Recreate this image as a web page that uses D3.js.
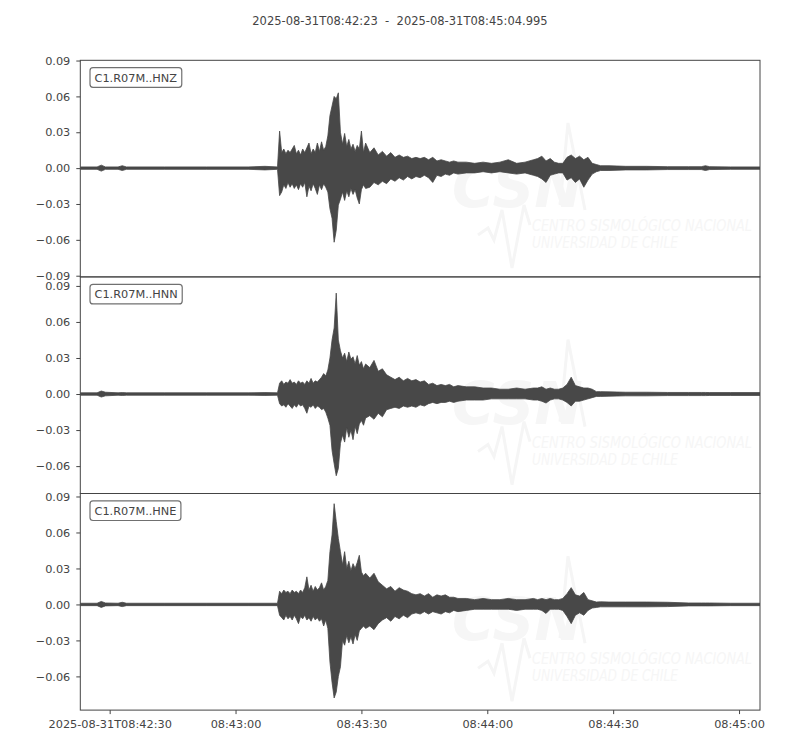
<!DOCTYPE html>
<html>
<head>
<meta charset="utf-8">
<script src="https://cdn.jsdelivr.net/npm/d3@7"></script>
<style>
  body { margin: 0; background: #fff; }
  text { font-family: "DejaVu Sans", sans-serif; }
</style>
</head>
<body>
<div id="chart"></div>
<script>

// Set dimensions and margins
const width = 800;
const height = 750;
const margin = {left: 80.3, right: 40, top: 60.3};
const panelH = 216.6;

// channel names, one panel each
const channels = ["C1.R07M..HNZ", "C1.R07M..HNN", "C1.R07M..HNE"];

// trace start / end (UTC)
const startTime = "2025-08-31T08:42:23Z";
const endTime = "2025-08-31T08:45:04.995Z";
const titleText = "2025-08-31T08:42:23  -  2025-08-31T08:45:04.995";

// envelope sample times, seconds after start
const seconds = [
  0, 4, 5, 6, 9, 10, 11, 20, 30, 40, 44, 47,
  47.5, 48, 48.5, 49, 49.5, 50, 50.5, 51, 51.5, 52, 52.5, 53, 53.5, 54, 54.5, 55, 55.5, 56, 56.5, 57,
  57.5, 58, 58.5, 59, 59.5, 60, 60.5, 61, 61.5, 62, 62.5, 63, 63.5, 64, 64.5, 65, 65.5, 66, 66.5, 67, 67.5, 68,
  69, 70, 71, 72, 73, 74, 75, 76, 77, 78, 79, 80, 81, 82, 83, 84, 85, 86, 87, 88, 89, 90,
  92, 94, 96, 98, 100, 102, 104, 106, 108,
  109, 110, 111, 112, 113, 114, 115, 116, 117, 118, 119, 120, 121, 122, 123, 124,
  126, 130, 135, 140, 145, 148, 149, 150, 155, 161.99
];

// HNZ envelope (max / min), m/s^2
const hnzUpper = [
  .001, .001, .0025, .001, .001, .002, .001, .001, .001, .001, .0015, .001,
  .031, .013, .016, .012, .015, .013, .016, .019, .012, .015, .011, .016, .013, .017, .021, .012, .016, .013, .021, .014,
  .022, .015, .018, .027, .044, .052, .060, .058, .063, .030, .020, .029, .018, .024, .016, .020, .014, .019, .016, .031, .013, .021,
  .013, .017, .011, .014, .010, .013, .009, .011, .009, .010, .008, .009, .008, .009, .007, .009, .006, .007, .006, .005, .006, .005,
  .005, .004, .005, .004, .005, .007, .004, .005, .007,
  .008, .010, .006, .008, .005, .004, .004, .009, .011, .008, .010, .007, .009, .004, .003, .002,
  .002, .0015, .0015, .0012, .0012, .0012, .002, .0012, .001, .001
];
const hnzLower = [
  -.001, -.001, -.0025, -.001, -.001, -.002, -.001, -.001, -.001, -.001, -.0015, -.001,
  -.023, -.020, -.014, -.017, -.012, -.016, -.013, -.017, -.014, -.018, -.013, -.016, -.012, -.024, -.015, -.019, -.013, -.017, -.022, -.014,
  -.018, -.013, -.016, -.020, -.034, -.042, -.062, -.052, -.031, -.026, -.020, -.027, -.019, -.024, -.017, -.022, -.018, -.025, -.030, -.018, -.014, -.017,
  -.016, -.012, -.014, -.011, -.013, -.009, -.011, -.008, -.010, -.007, -.009, -.007, -.008, -.006, -.008, -.012, -.006, -.007, -.005, -.006, -.004, -.005,
  -.004, -.004, -.003, -.004, -.003, -.004, -.005, -.004, -.006,
  -.007, -.009, -.012, -.006, -.005, -.004, -.004, -.010, -.008, -.012, -.009, -.016, -.010, -.005, -.003, -.002,
  -.002, -.0015, -.0015, -.0012, -.0012, -.0012, -.002, -.0012, -.001, -.001
];

// HNN envelope
const hnnUpper = [
  .001, .001, .0025, .0015, .001, .0012, .001, .001, .001, .001, .0012, .001,
  .009, .011, .008, .010, .009, .012, .009, .010, .008, .011, .009, .010, .008, .011, .009, .013, .009, .011, .010, .012,
  .014, .017, .015, .020, .030, .045, .055, .084, .045, .036, .030, .034, .027, .035, .029, .031, .025, .032, .024, .027, .021, .025,
  .022, .028, .019, .021, .016, .014, .012, .014, .011, .013, .011, .012, .010, .011, .008, .009, .007, .008, .007, .008, .006, .007,
  .006, .006, .005, .005, .004, .004, .005, .004, .005,
  .005, .006, .004, .005, .004, .004, .005, .008, .014, .007, .006, .005, .005, .004, .002, .002,
  .0018, .0015, .0015, .0013, .0013, .0013, .0013, .0012, .0012, .0012
];
const hnnLower = [
  -.001, -.001, -.0025, -.0015, -.001, -.0012, -.001, -.001, -.001, -.001, -.0012, -.001,
  -.008, -.010, -.009, -.011, -.008, -.010, -.012, -.009, -.011, -.008, -.010, -.009, -.012, -.016, -.010, -.011, -.009, -.012, -.010, -.011,
  -.013, -.012, -.015, -.020, -.026, -.047, -.058, -.068, -.062, -.041, -.034, -.040, -.028, -.036, -.030, -.038, -.027, -.033, -.025, -.022, -.026, -.020,
  -.018, -.021, -.016, -.019, -.013, -.012, -.011, -.012, -.010, -.011, -.010, -.011, -.009, -.010, -.008, -.007, -.008, -.007, -.007, -.006, -.007, -.006,
  -.005, -.005, -.005, -.004, -.004, -.004, -.004, -.004, -.005,
  -.005, -.006, -.0075, -.005, -.004, -.004, -.005, -.007, -.010, -.006, -.006, -.005, -.004, -.003, -.002, -.002,
  -.0018, -.0015, -.0015, -.0013, -.0013, -.0013, -.0013, -.0012, -.0012, -.0012
];

// HNE envelope
const hneUpper = [
  .001, .001, .0025, .0012, .001, .0018, .001, .001, .001, .001, .001, .001,
  .011, .009, .012, .010, .011, .009, .012, .010, .011, .009, .012, .010, .014, .023, .012, .016, .011, .015, .012, .014,
  .018, .012, .015, .020, .044, .058, .084, .069, .055, .044, .033, .044, .030, .036, .028, .034, .030, .035, .041, .027, .024, .026,
  .022, .026, .019, .016, .013, .015, .011, .014, .012, .011, .009, .008, .009, .007, .009, .006, .008, .007, .008, .006, .006, .005,
  .005, .004, .005, .004, .004, .005, .004, .004, .005,
  .004, .005, .004, .005, .004, .004, .005, .009, .014, .008, .007, .010, .004, .003, .002, .0022,
  .002, .002, .002, .0018, .0012, .0012, .0012, .0012, .001, .001
];
const hneLower = [
  -.001, -.001, -.0025, -.0012, -.001, -.0018, -.001, -.001, -.001, -.001, -.001, -.001,
  -.009, -.011, -.013, -.009, -.012, -.010, -.013, -.009, -.012, -.016, -.010, -.012, -.009, -.013, -.011, -.014, -.010, -.013, -.011, -.014,
  -.012, -.018, -.013, -.020, -.048, -.065, -.078, -.073, -.060, -.052, -.030, -.034, -.026, -.032, -.027, -.033, -.025, -.030, -.022, -.020, -.018, -.020,
  -.018, -.021, -.016, -.013, -.011, -.014, -.010, -.012, -.009, -.011, -.008, -.007, -.008, -.006, -.008, -.006, -.007, -.008, -.006, -.007, -.005, -.006,
  -.005, -.004, -.004, -.004, -.004, -.004, -.005, -.004, -.004,
  -.004, -.005, -.0075, -.004, -.004, -.004, -.005, -.010, -.016, -.009, -.007, -.009, -.005, -.003, -.0025, -.002,
  -.002, -.002, -.002, -.0018, -.0012, -.0012, -.0012, -.0012, -.001, -.001
];

const uppers = [hnzUpper, hnnUpper, hneUpper];
const lowers = [hnzLower, hnnLower, hneLower];

// y limits of each panel (min, max)
const yLimits = [[-0.0910, 0.0902], [-0.0828, 0.0975], [-0.0881, 0.0925]];
const yTicks = [0.09, 0.06, 0.03, 0, -0.03, -0.06, -0.09];

// x ticks
const xTickTimes = ["08:42:30", "08:43:00", "08:43:30", "08:44:00", "08:44:30", "08:45:00"];
const xTickLabels = ["2025-08-31T08:42:30", "08:43:00", "08:43:30", "08:44:00", "08:44:30", "08:45:00"];

const ink = "#444444";
const traceColor = "#484848";

const t0 = new Date(startTime);
const xScale = d3.scaleUtc()
  .domain([t0, new Date(endTime)])
  .range([margin.left, width - margin.right]);

const svg = d3.select("#chart")
  .append("svg")
  .attr("width", width)
  .attr("height", height);

// title
svg.append("text")
  .attr("x", 400)
  .attr("y", 25)
  .attr("text-anchor", "middle")
  .style("white-space", "pre")
  .attr("font-size", "11.5px")
  .attr("fill", ink)
  .text(titleText);

channels.forEach((name, i) => {
  const top = margin.top + panelH * i;
  const bottom = top + panelH;

  const yScale = d3.scaleLinear()
    .domain(yLimits[i])
    .range([bottom, top]);

  const g = svg.append("g");

  // clip for the trace
  g.append("clipPath")
    .attr("id", "clip" + i)
    .append("rect")
    .attr("x", margin.left)
    .attr("y", top)
    .attr("width", width - margin.right - margin.left)
    .attr("height", panelH);

  // faint CSN watermark (clip on outer group, shift on inner)
  const wm = g.append("g")
    .attr("clip-path", `url(#clip${i})`)
    .append("g")
    .attr("transform", `translate(0,${top - margin.top})`)
    .attr("fill", "#f6f6f6");
  wm.append("path")
    .attr("d", "M478,235 L488,228 L494,240 L502,210 L512,268 L524,205 L530,225 M560,205 L568,123 L585,210")
    .attr("fill", "none")
    .attr("stroke", "#f5f5f5")
    .attr("stroke-width", 3);
  wm.append("text")
    .attr("x", 452).attr("y", 207)
    .attr("font-size", "58px")
    .attr("font-weight", "bold")
    .attr("font-style", "italic")
    .text("CSN");
  wm.append("text")
    .attr("x", 532).attr("y", 231)
    .attr("font-size", "16px")
    .attr("font-style", "italic")
    .attr("textLength", 220)
    .attr("lengthAdjust", "spacingAndGlyphs")
    .text("CENTRO SISMOLÓGICO NACIONAL");
  wm.append("text")
    .attr("x", 532).attr("y", 248)
    .attr("font-size", "16px")
    .attr("font-style", "italic")
    .attr("textLength", 146)
    .attr("lengthAdjust", "spacingAndGlyphs")
    .text("UNIVERSIDAD DE CHILE");

  // waveform envelope
  const rows = seconds.map((s, k) => ({
    time: new Date(t0.getTime() + s * 1000),
    hi: uppers[i][k],
    lo: lowers[i][k]
  }));

  const area = d3.area()
    .x(d => xScale(d.time))
    .y0(d => yScale(d.lo))
    .y1(d => yScale(d.hi));

  g.append("path")
    .datum(rows)
    .attr("clip-path", `url(#clip${i})`)
    .attr("d", area)
    .attr("fill", traceColor)
    .attr("stroke", traceColor)
    .attr("stroke-width", 0.8);

  // y axis
  const yAxis = g.append("g")
    .attr("transform", `translate(${margin.left},0)`)
    .call(d3.axisLeft(yScale)
      .tickValues(yTicks.filter(v => v >= yLimits[i][0] - 1e-3 && v <= yLimits[i][1] + 1e-3))
      .tickFormat(d3.format(".2f"))
      .tickSize(4)
      .tickPadding(6));
  yAxis.select(".domain").remove();
  yAxis.selectAll("line").attr("stroke", ink);
  yAxis.selectAll("text").attr("fill", ink).attr("font-size", "11.3px")
    .attr("font-family", "DejaVu Sans, sans-serif");

  // x axis on the last panel only
  if (i === channels.length - 1) {
    const xAxis = g.append("g")
      .attr("transform", `translate(0,${bottom})`)
      .call(d3.axisBottom(xScale)
        .tickValues(xTickTimes.map(s => new Date("2025-08-31T" + s + "Z")))
        .tickFormat((d, k) => xTickLabels[k])
        .tickSize(4)
        .tickPadding(6));
    xAxis.select(".domain").remove();
    xAxis.selectAll("line").attr("stroke", ink);
    xAxis.selectAll("text").attr("fill", ink).attr("font-size", "11.3px")
      .attr("font-family", "DejaVu Sans, sans-serif");
  }

  // frame
  g.append("rect")
    .attr("x", margin.left)
    .attr("y", top)
    .attr("width", width - margin.right - margin.left)
    .attr("height", panelH)
    .attr("fill", "none")
    .attr("stroke", ink)
    .attr("stroke-width", 1);

  // channel label box
  const box = g.append("rect")
    .attr("y", top + 7.4)
    .attr("height", 19.6)
    .attr("rx", 3)
    .attr("fill", "#fff")
    .attr("stroke", "#707070")
    .attr("stroke-width", 1.2);
  const label = g.append("text")
    .attr("x", 94.5)
    .attr("y", top + 21.5)
    .attr("font-size", "11.3px")
    .attr("fill", ink)
    .text(name);
  const bb = label.node().getBBox();
  box.attr("x", bb.x - 4.5).attr("width", bb.width + 9);
});

</script>
</body>
</html>
